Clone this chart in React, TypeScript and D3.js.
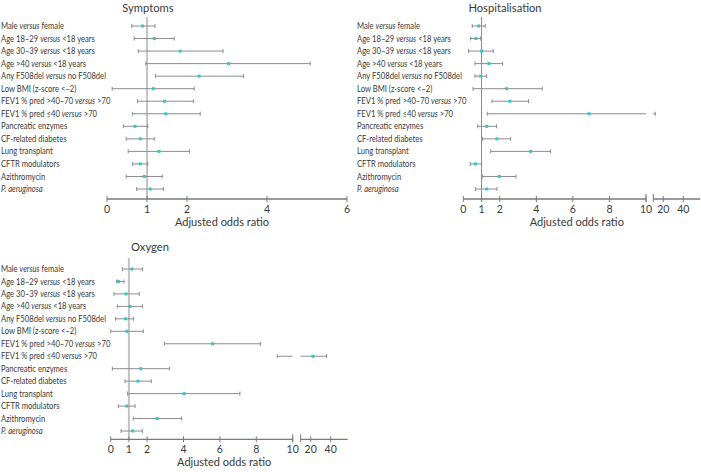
import React from "react";
import * as d3 from "d3";

const labels = [
  ["Male ", "versus", " female"],
  ["Age 18–29 ", "versus", " <18 years"],
  ["Age 30–39 ", "versus", " <18 years"],
  ["Age >40 ", "versus", " <18 years"],
  ["Any F508del ", "versus", " no F508del"],
  ["Low BMI (z-score <–2)", "", ""],
  ["FEV1 % pred >40–70 ", "versus", " >70"],
  ["FEV1 % pred ≤40 ", "versus", " >70"],
  ["Pancreatic enzymes", "", ""],
  ["CF-related diabetes", "", ""],
  ["Lung transplant", "", ""],
  ["CFTR modulators", "", ""],
  ["Azithromycin", "", ""],
  ["", "P. aeruginosa", ""],
];

const symptomsOR = [0.89, 1.18, 1.83, 3.04, 2.3, 1.16, 1.44, 1.47, 0.7, 0.83, 1.3, 0.83, 0.93, 1.08];
const symptomsLo = [0.62, 0.68, 0.78, 0.97, 1.21, 0.13, 0.76, 0.64, 0.41, 0.48, 0.53, 0.64, 0.48, 0.74];
const symptomsHi = [1.2, 1.68, 2.9, 5.08, 3.41, 2.18, 2.16, 2.33, 1.02, 1.18, 2.06, 1.02, 1.38, 1.41];

const hospOR = [0.84, 0.69, 1.0, 1.4, 0.95, 2.37, 2.55, 6.88, 1.28, 1.84, 3.68, 0.66, 1.97, 1.28];
const hospLo = [0.49, 0.4, 0.29, 0.64, 0.64, 0.53, 1.57, 1.31, 0.79, 1.06, 1.5, 0.38, 1.06, 0.66];
const hospHi = [1.2, 0.95, 1.64, 2.15, 1.28, 4.32, 3.57, 12, 1.82, 2.59, 4.78, 1.0, 2.88, 1.84];

const oxyOR = [1.17, 0.42, 0.84, 1.06, 0.82, 0.88, 5.6, 22.3, 1.65, 1.5, 4.04, 0.88, 2.56, 1.21];
const oxyLo = [0.64, 0.33, 0.18, 0.36, 0.27, 0.0, 2.95, 9.15, 0.09, 0.79, 0.93, 0.42, 1.24, 0.57];
const oxyHi = [1.74, 0.73, 1.57, 1.74, 1.26, 1.79, 8.22, 35.8, 3.22, 2.23, 7.1, 1.34, 3.9, 1.74];

const symptomsTicks = [0, 1, 2, 4, 6];
const lowTicks = [0, 1, 2, 4, 6, 8, 10];
const highTicks = [20, 40];

const FONT = "Lato, 'Open Sans', sans-serif";
const TEXT = "#3a3a3a";
const BAR = "#8c8c8c";
const AXIS = "#7a7a7a";
const POINT = "#35c6c9";

type Seg = { s: d3.ScaleLinear<number, number>; d: [number, number] };

function Panel(props: {
  title: string;
  titleX: number;
  titleY: number;
  labelX: number;
  rows: d3.ScaleLinear<number, number>;
  axisY: number;
  refTop: number;
  refW: number;
  refColor: string;
  segs: Seg[];
  ticks: number[][];
  or: number[];
  lo: number[];
  hi: number[];
}) {
  const { segs, rows, axisY } = props;
  const segOf = (v: number) => (segs.length > 1 && v > segs[0].d[1] ? 1 : 0);
  const x = (v: number) => segs[segOf(v)].s(v);
  const x0 = segs[0].s.range()[0];
  const xEnd = segs[segs.length - 1].s.range()[1];
  const titleCenter = (x0 + xEnd) / 2 - 5;
  return (
    <g fontFamily={FONT}>
      <text x={props.titleX} y={props.titleY} textAnchor="middle" fontSize={11.2} fill={TEXT}>
        {props.title}
      </text>
      <line x1={x(1)} x2={x(1)} y1={props.refTop} y2={axisY} stroke={props.refColor} strokeWidth={props.refW} />
      <g transform={`translate(${props.labelX},0) scale(0.89,1)`}>
        {labels.map((l, i) => (
          <text key={i} x={0} y={rows(i) + 3.1} fontSize={8.6} fill={TEXT}>
            {l[0]}
            {l[1] ? <tspan fontStyle="italic">{l[1]}</tspan> : null}
            {l[2]}
          </text>
        ))}
      </g>
      {props.or.map((v, i) => {
        const y = rows(i);
        const lo = props.lo[i];
        const hi = props.hi[i];
        const pieces: [number, number][] = [];
        if (segOf(lo) === segOf(hi)) pieces.push([x(lo), x(hi)]);
        else {
          pieces.push([x(lo), segs[0].s(segs[0].d[1])]);
          pieces.push([segs[1].s(segs[1].d[0]), x(hi)]);
        }
        return (
          <g key={i}>
            {pieces.map((p, j) => (
              <line key={j} x1={p[0]} x2={p[1]} y1={y} y2={y} stroke={BAR} strokeWidth={1} />
            ))}
            <line x1={x(lo)} x2={x(lo)} y1={y - 2} y2={y + 2} stroke={BAR} strokeWidth={1} />
            <line x1={x(hi)} x2={x(hi)} y1={y - 2} y2={y + 2} stroke={BAR} strokeWidth={1} />
            <rect x={x(v) - 1.5} y={y - 1.5} width={3} height={3} fill={POINT} />
          </g>
        );
      })}
      {segs.map((sg, k) => {
        const r = sg.s.range();
        return (
          <g key={k}>
            <line x1={r[0]} x2={r[1]} y1={axisY} y2={axisY} stroke={AXIS} strokeWidth={1.3} />
            {props.ticks[k].map((t) => (
              <g key={t}>
                <line x1={sg.s(t)} x2={sg.s(t)} y1={axisY - 3} y2={axisY + 3} stroke={AXIS} strokeWidth={1} />
                <text x={sg.s(t)} y={axisY + 14} textAnchor="middle" fontSize={10.5} fill={TEXT}>
                  {t}
                </text>
              </g>
            ))}
            {segs.length > 1 ? (
              <>
                {k === 0 ? (
                  <line x1={r[1]} x2={r[1]} y1={axisY - 5} y2={axisY + 3} stroke={AXIS} strokeWidth={1} />
                ) : (
                  <line x1={r[0]} x2={r[0]} y1={axisY - 5} y2={axisY + 3} stroke={AXIS} strokeWidth={1} />
                )}
              </>
            ) : null}
          </g>
        );
      })}
      <text x={titleCenter} y={axisY + 27} textAnchor="middle" fontSize={11} fill={TEXT}>
        Adjusted odds ratio
      </text>
    </g>
  );
}

export default function App() {
  const n = labels.length;
  const rowsTop = d3.scaleLinear().domain([0, n - 1]).range([26, 189]);
  const rowsBottom = d3.scaleLinear().domain([0, n - 1]).range([269, 431]);

  const symScale = d3.scaleLinear().domain([0, 6]).range([107, 347]);
  const hospLow = d3.scaleLinear().domain([0, 10]).range([463.3, 646]);
  const hospHigh = d3.scaleLinear().domain([10, 57]).range([653.3, 700.3]);
  const oxyLow = d3.scaleLinear().domain([0, 10]).range([110.7, 292.7]);
  const oxyHigh = d3.scaleLinear().domain([10, 57]).range([300.7, 347.7]);

  return (
    <svg width={701} height={472} style={{ position: "absolute", left: 0, top: 0, background: "#fff" }}>
      <rect width={701} height={472} fill="#fff" />
      <Panel
        title="Symptoms"
        titleX={148}
        titleY={11.5}
        labelX={1}
        rows={rowsTop}
        axisY={199}
        refTop={17}
        refW={1}
        refColor="#8a8a8a"
        segs={[{ s: symScale, d: [0, 6] }]}
        ticks={[symptomsTicks]}
        or={symptomsOR}
        lo={symptomsLo}
        hi={symptomsHi}
      />
      <Panel
        title="Hospitalisation"
        titleX={505}
        titleY={11.5}
        labelX={357}
        rows={rowsTop}
        axisY={199}
        refTop={17}
        refW={1}
        refColor="#8a8a8a"
        segs={[
          { s: hospLow, d: [0, 10] },
          { s: hospHigh, d: [10, 57] },
        ]}
        ticks={[lowTicks, highTicks]}
        or={hospOR}
        lo={hospLo}
        hi={hospHi}
      />
      <Panel
        title="Oxygen"
        titleX={150}
        titleY={251}
        labelX={1}
        rows={rowsBottom}
        axisY={439.3}
        refTop={258}
        refW={2}
        refColor="#c4c4c4"
        segs={[
          { s: oxyLow, d: [0, 10] },
          { s: oxyHigh, d: [10, 57] },
        ]}
        ticks={[lowTicks, highTicks]}
        or={oxyOR}
        lo={oxyLo}
        hi={oxyHi}
      />
    </svg>
  );
}
